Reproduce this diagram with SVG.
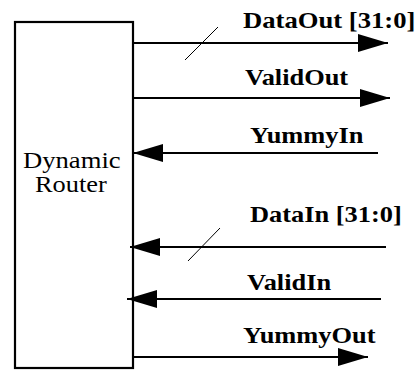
<svg xmlns="http://www.w3.org/2000/svg" width="419" height="370" viewBox="0 0 419 370">
  <style>
    .box { fill: #fff; stroke: #000; stroke-width: 2.2; }
    .wire { stroke: #000; stroke-width: 2; fill: none; }
    .slash { stroke: #000; stroke-width: 1; fill: none; }
    .lbl { font-family: 'Liberation Serif', 'Times New Roman', serif; font-weight: bold; font-size: 24px; fill: #000; }
    .name { font-family: 'Liberation Serif', 'Times New Roman', serif; font-size: 24px; fill: #000; }
  </style>
  <defs>
    <marker id="ah" markerUnits="userSpaceOnUse" markerWidth="32" markerHeight="20" refX="30" refY="9" orient="auto">
      <path d="M0,0 L30,9 L0,18 Z" fill="#000"/>
    </marker>
  </defs>
  <rect width="419" height="370" fill="#fff"/>
  <g id="router">
    <rect class="box" x="15" y="22" width="118" height="346"/>
    <text class="name" transform="translate(23 168) scale(1.11 1)">Dynamic</text>
    <text class="name" transform="translate(35 192) scale(1.1 1)">Router</text>
  </g>
  <g id="connectors">
    <line class="wire" x1="134" y1="43" x2="388" y2="43" marker-end="url(#ah)"/>
    <line class="slash" x1="185" y1="60" x2="218" y2="27"/>
    <line class="wire" x1="134" y1="98" x2="390" y2="98" marker-end="url(#ah)"/>
    <line class="wire" x1="378" y1="153" x2="133" y2="153" marker-end="url(#ah)"/>
    <line class="wire" x1="386" y1="247" x2="130" y2="247" marker-end="url(#ah)"/>
    <line class="slash" x1="188" y1="261" x2="220" y2="228"/>
    <line class="wire" x1="381" y1="299" x2="127" y2="299" marker-end="url(#ah)"/>
    <line class="wire" x1="134" y1="357" x2="368" y2="357" marker-end="url(#ah)"/>
  </g>
  <g id="labels">
    <text class="lbl" transform="translate(243 28) scale(1.11 1)">DataOut [31:0]</text>
    <text class="lbl" transform="translate(245 85) scale(1.1 1)">ValidOut</text>
    <text class="lbl" transform="translate(250 143) scale(1.1 1)">YummyIn</text>
    <text class="lbl" transform="translate(250 222) scale(1.1 1)">DataIn [31:0]</text>
    <text class="lbl" transform="translate(247 290) scale(1.1 1)">ValidIn</text>
    <text class="lbl" transform="translate(243 343) scale(1.1 1)">YummyOut</text>
  </g>
</svg>
